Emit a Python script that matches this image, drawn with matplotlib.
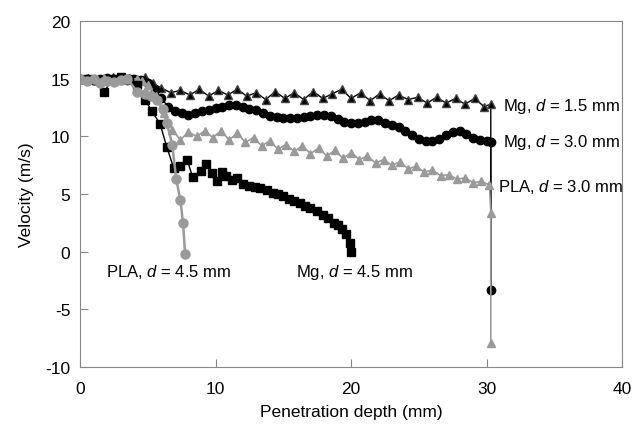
import matplotlib
matplotlib.use("Agg")
import matplotlib.pyplot as plt

plt.rcParams['font.family'] = ['Liberation Sans', 'DejaVu Sans']
plt.rcParams['mathtext.fontset'] = 'custom'
plt.rcParams['mathtext.rm'] = 'Liberation Sans'
plt.rcParams['mathtext.it'] = 'Liberation Sans:italic'
plt.rcParams['axes.unicode_minus'] = False

# Mg, d = 1.5 mm (black triangles)
mg15_x = [0, 0.6, 1.2, 1.8, 2.4, 3.0, 3.6, 4.2, 4.8, 5.4, 6.0, 6.7, 7.4, 8.1, 8.8, 9.5,
          10.2, 10.9, 11.6, 12.3, 13.0, 13.7, 14.4, 15.1, 15.8, 16.5, 17.2, 17.9, 18.6,
          19.3, 20.0, 20.7, 21.4, 22.1, 22.8, 23.5, 24.2, 24.9, 25.6, 26.3, 27.0, 27.7,
          28.4, 29.1, 29.8, 30.3, 30.3]
mg15_y = [15.0, 15.1, 14.9, 15.1, 15.2, 15.0, 15.1, 15.0, 15.2, 14.6, 14.2, 13.8, 14.0,
          13.6, 14.1, 13.5, 14.0, 13.6, 14.1, 13.5, 13.8, 13.2, 13.9, 13.3, 13.8, 13.2,
          13.9, 13.3, 13.7, 14.1, 13.3, 13.8, 13.1, 13.7, 13.1, 13.6, 13.2, 13.4, 12.9,
          13.4, 12.9, 13.3, 12.8, 13.3, 12.6, 12.8, -3.3]

# Mg, d = 3.0 mm (black circles)
mg30_x = [0, 0.5, 1.0, 1.5, 2.0, 2.5, 3.0, 3.5, 4.0, 4.5, 5.0, 5.5, 6.0, 6.5, 7.0, 7.5,
          8.0, 8.5, 9.0, 9.5, 10.0, 10.5, 11.0, 11.5, 12.0, 12.5, 13.0, 13.5, 14.0, 14.5,
          15.0, 15.5, 16.0, 16.5, 17.0, 17.5, 18.0, 18.5, 19.0, 19.5, 20.0, 20.5, 21.0,
          21.5, 22.0, 22.5, 23.0, 23.5, 24.0, 24.5, 25.0, 25.5, 26.0, 26.5, 27.0, 27.5,
          28.0, 28.5, 29.0, 29.5, 30.0, 30.3, 30.3]
mg30_y = [15.0, 15.0, 14.9, 15.0, 15.1, 15.0, 15.0, 14.9, 15.0, 14.9, 14.6, 14.0, 13.3,
          12.6, 12.2, 12.0, 11.9, 12.0, 12.2, 12.3, 12.5, 12.6, 12.7, 12.7, 12.6, 12.4,
          12.3, 12.0, 11.8, 11.7, 11.6, 11.6, 11.6, 11.7, 11.8, 11.9, 11.9, 11.8, 11.5,
          11.3, 11.2, 11.2, 11.3, 11.4, 11.4, 11.2, 11.0, 10.8, 10.5, 10.1, 9.8, 9.6, 9.6,
          9.8, 10.1, 10.4, 10.5, 10.2, 9.9, 9.7, 9.6, 9.5, -3.3]

# PLA, d = 3.0 mm (grey triangles)
pla30_x = [0, 0.6, 1.2, 1.8, 2.4, 3.0, 3.6, 4.2, 4.6, 5.0, 5.6, 6.2, 6.8, 7.4, 8.0, 8.6,
           9.2, 9.8, 10.4, 11.0, 11.6, 12.2, 12.8, 13.4, 14.0, 14.6, 15.2, 15.8, 16.4,
           17.0, 17.6, 18.2, 18.8, 19.4, 20.0, 20.6, 21.2, 21.8, 22.4, 23.0, 23.6, 24.2,
           24.8, 25.4, 26.0, 26.6, 27.2, 27.8, 28.4, 29.0, 29.6, 30.2, 30.3, 30.3]
pla30_y = [15.0, 14.9, 15.0, 15.1, 15.0, 14.9, 15.0, 15.0, 14.8, 14.5, 13.5, 12.0, 10.6,
           9.7, 10.4, 10.0, 10.5, 9.9, 10.5, 9.7, 10.3, 9.5, 9.9, 9.2, 9.6, 8.9, 9.3, 8.7,
           9.2, 8.5, 9.0, 8.3, 8.8, 8.1, 8.6, 8.0, 8.3, 7.7, 8.0, 7.5, 7.8, 7.2, 7.4, 6.9,
           7.1, 6.6, 6.7, 6.3, 6.4, 6.0, 6.1, 5.8, 3.4, -7.9]

# Mg, d = 4.5 mm (black squares)
mg45_x = [0, 0.6, 1.2, 1.8, 2.4, 3.0, 3.6, 4.2, 4.8, 5.3, 5.9, 6.4, 6.9, 7.4, 7.9, 8.3,
          8.9, 9.3, 9.7, 10.1, 10.5, 10.8, 11.2, 11.6, 12.0, 12.5, 12.9, 13.3, 13.8, 14.2,
          14.6, 15.0, 15.4, 15.8, 16.2, 16.6, 17.0, 17.5, 17.9, 18.3, 18.7, 19.0, 19.3,
          19.6, 19.9, 20.0]
mg45_y = [15.0, 15.0, 14.9, 13.9, 15.0, 15.2, 15.0, 14.5, 13.2, 12.2, 11.1, 9.1, 7.3, 7.4,
          8.0, 6.5, 7.0, 7.6, 6.8, 6.1, 6.9, 6.6, 6.2, 6.4, 5.9, 5.7, 5.6, 5.5, 5.4, 5.1,
          5.0, 4.8, 4.6, 4.4, 4.2, 4.0, 3.8, 3.5, 3.2, 2.9, 2.5, 2.3, 2.0, 1.5, 0.8, 0.0]

# PLA, d = 4.5 mm (grey circles)
pla45_x = [0, 0.5, 1.0, 1.5, 2.0, 2.5, 3.0, 3.5, 4.2, 4.8, 5.2, 5.7, 6.1, 6.4, 6.8, 7.1,
           7.4, 7.6, 7.75]
pla45_y = [15.0, 14.8, 15.0, 14.6, 14.8, 14.7, 14.9, 15.0, 13.9, 13.7, 13.5, 13.2, 12.4,
           11.2, 9.3, 6.3, 4.5, 2.5, -0.2]

labels = ["Mg, $d$ = 1.5 mm", "Mg, $d$ = 3.0 mm", "PLA, $d$ = 3.0 mm",
          "PLA, $d$ = 4.5 mm", "Mg, $d$ = 4.5 mm"]

grey = '#9a9a9a'
fig = plt.figure(figsize=(6.35, 4.27), dpi=100)
ax = fig.add_axes([0.126, 0.138, 0.854, 0.81])

ax.plot(mg15_x, mg15_y, color='black', lw=1, marker='^', ms=5.5,
        markevery=list(range(len(mg15_x) - 1)), mec='#444444')
ax.plot(mg30_x, mg30_y, color='black', lw=1, marker='o', ms=6)
ax.plot(pla30_x, pla30_y, color=grey, lw=1.2, marker='^', ms=5.5)
ax.plot(mg45_x, mg45_y, color='black', lw=1, marker='s', ms=5.5)
ax.plot(pla45_x, pla45_y, color=grey, lw=1.8, marker='o', ms=6.5)

ax.text(31.2, 12.7, labels[0], fontsize=12, va='center')
ax.text(31.2, 9.6, labels[1], fontsize=12, va='center')
ax.text(30.8, 5.7, labels[2], fontsize=12, va='center')
ax.text(1.9, -1.7, labels[3], fontsize=12, va='center')
ax.text(15.9, -1.7, labels[4], fontsize=12, va='center')

ax.set_xlim(0, 40)
ax.set_ylim(-10, 20)
ax.set_xticks([0, 10, 20, 30, 40])
ax.set_yticks([-10, -5, 0, 5, 10, 15, 20])
ax.set_xlabel("Penetration depth (mm)", fontsize=12.5, labelpad=6)
ax.set_ylabel("Velocity (m/s)", fontsize=12.5, labelpad=8)
ax.tick_params(direction='in', length=6, color='#888888', labelsize=12.5)
ax.tick_params(axis='x', pad=10)
ax.tick_params(axis='y', pad=7)
for s in ax.spines.values():
    s.set_color('#888888')

fig.savefig("out.png", dpi=100)
